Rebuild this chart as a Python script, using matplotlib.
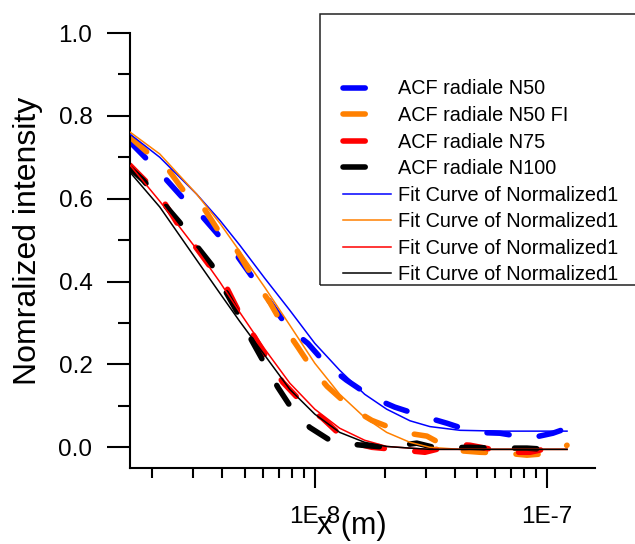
import numpy as np
import matplotlib
matplotlib.use("Agg")
import matplotlib.pyplot as plt
from matplotlib.patches import Rectangle
from matplotlib.ticker import LogLocator, NullFormatter

plt.rcParams['font.family'] = ['Liberation Sans', 'DejaVu Sans']

# ACF radiale data
x_n50 = [1.60e-9, 1.91e-9, 2.26e-9, 2.75e-9, 3.29e-9, 4.09e-9, 4.61e-9, 7.65e-9, 9.33e-9,
         1.13e-8, 1.37e-8, 1.76e-8, 2.21e-8, 2.92e-8, 3.71e-8, 4.89e-8, 6.27e-8, 8.45e-8,
         1.06e-7, 1.22e-7]
y_n50 = [0.737, 0.693, 0.650, 0.597, 0.556, 0.495, 0.464, 0.290, 0.251,
         0.198, 0.162, 0.121, 0.097, 0.075, 0.058, 0.036, 0.034, 0.022,
         0.034, 0.046]

x_n50fi = [1.60e-9, 1.89e-9, 2.30e-9, 2.75e-9, 3.26e-9, 4.01e-9, 4.61e-9, 5.51e-9, 6.40e-9,
           7.28e-9, 8.45e-9, 9.71e-9, 1.13e-8, 1.44e-8, 1.76e-8, 2.39e-8, 3.04e-8, 3.94e-8,
           5.14e-8, 6.59e-8, 8.20e-8, 1.06e-7, 1.22e-7]
y_n50fi = [0.749, 0.713, 0.676, 0.616, 0.585, 0.507, 0.476, 0.403, 0.350,
           0.295, 0.242, 0.191, 0.147, 0.094, 0.065, 0.036, 0.027, -0.007,
           -0.012, -0.014, -0.019, -0.014, 0.005]

x_n75 = [1.60e-9, 1.89e-9, 2.19e-9, 2.62e-9, 2.98e-9, 3.63e-9, 4.17e-9, 4.84e-9, 5.51e-9,
         6.40e-9, 7.28e-9, 9.06e-9, 1.08e-8, 1.32e-8, 1.56e-8, 1.76e-8, 2.39e-8, 2.98e-8,
         4.09e-8, 4.66e-8, 6.72e-8, 8.45e-8, 1.06e-7, 1.22e-7]
y_n75 = [0.681, 0.640, 0.601, 0.531, 0.493, 0.428, 0.386, 0.314, 0.266,
         0.203, 0.157, 0.101, 0.070, 0.024, 0.007, 0.000, -0.007, -0.012,
         0.007, 0.005, -0.012, -0.012, 0.000, 0.007]

x_n100 = [1.60e-9, 1.82e-9, 2.30e-9, 2.62e-9, 3.10e-9, 3.60e-9, 4.17e-9, 4.66e-9, 5.35e-9,
          5.97e-9, 6.93e-9, 7.80e-9, 9.51e-9, 1.20e-8, 1.60e-8, 2.04e-8, 2.75e-8, 3.36e-8,
          4.66e-8, 5.85e-8, 8.20e-8, 1.00e-7, 1.22e-7]
y_n100 = [0.674, 0.645, 0.580, 0.543, 0.486, 0.440, 0.372, 0.324, 0.258,
          0.210, 0.145, 0.101, 0.048, 0.012, 0.005, 0.000, 0.010, -0.002,
          0.000, -0.002, -0.002, -0.005, -0.002]

# fit curves, sampled on one x grid
x_fit = [1.60e-9, 2.15e-9, 3.10e-9, 3.90e-9, 4.75e-9, 6.09e-9, 7.80e-9, 1.00e-8,
         1.28e-8, 1.64e-8, 2.04e-8, 2.57e-8, 3.13e-8, 4.22e-8, 6.27e-8, 1.22e-7]
fit_n50 = [0.756, 0.700, 0.611, 0.548, 0.488, 0.408, 0.331, 0.251,
           0.186, 0.128, 0.092, 0.064, 0.050, 0.041, 0.039, 0.039]
fit_n50fi = [0.761, 0.708, 0.611, 0.541, 0.473, 0.386, 0.295, 0.203,
             0.128, 0.072, 0.036, 0.012, 0.000, -0.005, -0.005, -0.005]
fit_n75 = [0.681, 0.594, 0.478, 0.399, 0.326, 0.237, 0.155, 0.092,
           0.046, 0.017, 0.002, -0.002, -0.005, -0.005, -0.005, -0.005]
fit_n100 = [0.664, 0.580, 0.452, 0.372, 0.304, 0.222, 0.140, 0.080,
            0.036, 0.012, 0.002, -0.002, -0.005, -0.005, -0.005, -0.005]

colors = ['#0000ff', '#ff8000', '#ff0000', '#000000']
data_labels = ['ACF radiale N50', 'ACF radiale N50 FI', 'ACF radiale N75', 'ACF radiale N100']
fit_label = 'Fit Curve of Normalized1'

fig = plt.figure(figsize=(6.35, 5.44), dpi=100)
ax = fig.add_axes([0.2047, 0.1397, 0.7323, 0.7996])

handles = []
for xs, ys, c, lab in zip([x_n50, x_n50fi, x_n75, x_n100],
                          [y_n50, y_n50fi, y_n75, y_n100], colors, data_labels):
    ln, = ax.plot(xs, ys, color=c, lw=4, dashes=(4.0, 5.5),
                  dash_capstyle='round', label=lab, zorder=2)
    handles.append(ln)
for ys, c in zip([fit_n50, fit_n50fi, fit_n75, fit_n100], colors):
    ln, = ax.plot(x_fit, ys, color=c, lw=1.1, label=fit_label, zorder=3)
    handles.append(ln)

ax.set_xscale('log')
ax.set_xlim(1.6e-9, 1.61e-7)
ax.set_ylim(-0.05, 1.0)

for s in ['top', 'right']:
    ax.spines[s].set_visible(False)
for s in ['left', 'bottom']:
    ax.spines[s].set_linewidth(1.5)

ax.set_xticks([1e-8, 1e-7], labels=['1E-8', '1E-7'])
ax.xaxis.set_minor_locator(LogLocator(base=10, subs=np.arange(2, 10)))
ax.xaxis.set_minor_formatter(NullFormatter())
ax.set_yticks([0.0, 0.2, 0.4, 0.6, 0.8, 1.0], labels=['0.0', '0.2', '0.4', '0.6', '0.8', '1.0'])
ax.set_yticks([0.1, 0.3, 0.5, 0.7, 0.9], minor=True)

ax.tick_params(axis='x', which='major', direction='out', length=14.5, width=1.5, pad=12.5, labelsize=17.5)
ax.tick_params(axis='x', which='minor', direction='out', length=7.2, width=1.5)
ax.tick_params(axis='y', which='major', direction='out', length=16.5, width=1.5, pad=10.5, labelsize=17.5)
ax.tick_params(axis='y', which='minor', direction='out', length=8.5, width=1.5)

ax.set_ylabel('Nomralized intensity', fontsize=23)
ax.yaxis.set_label_coords(-0.187, 0.522)
ax.set_xlabel('x (m)', fontsize=22)
ax.xaxis.set_label_coords(0.476, -0.099)

leg = ax.legend(handles=handles, loc='upper left', bbox_to_anchor=(343 / 635, 1 - 79.5 / 544),
                bbox_transform=fig.transFigure, frameon=False, borderpad=0, borderaxespad=0,
                handlelength=2.4, handletextpad=0.35, labelspacing=0.38, fontsize=14.3)

frame = Rectangle((320 / 635, 1 - 285 / 544), 0.6, (285 - 14) / 544, transform=fig.transFigure,
                  fill=False, lw=1.1, ec='#222222', clip_on=False)
fig.add_artist(frame)

fig.savefig('out.png', dpi=100)
